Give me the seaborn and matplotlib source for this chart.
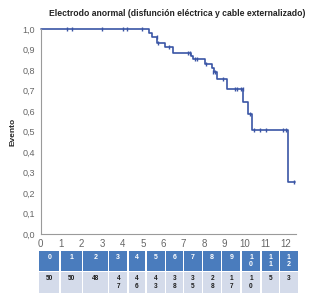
import numpy as np
import pandas as pd
from matplotlib import pyplot as plt
from matplotlib.patches import Rectangle
import seaborn as sns

# Kaplan-Meier steps (time in years, survival)
step_time = [0, 5.31, 5.44, 5.72, 6.09, 6.50, 7.35, 7.45, 8.06, 8.40, 8.50, 8.66,
             9.12, 9.93, 10.15, 10.34, 12.14, 12.45]
step_surv = [1.0, 0.979, 0.960, 0.930, 0.911, 0.882, 0.868, 0.855, 0.831, 0.808,
             0.790, 0.756, 0.707, 0.642, 0.586, 0.508, 0.256, 0.256]

# censored observations
cens_time = [1.30, 1.52, 3.02, 4.05, 4.23, 4.95, 5.69, 5.75, 6.30, 7.24, 7.32, 7.55,
             7.68, 8.10, 8.45, 8.55, 8.95, 9.52, 9.60, 9.80, 9.92, 10.26, 10.47,
             10.75, 11.04, 11.89, 12.00, 12.43]
cens_surv = [1.0, 1.0, 1.0, 1.0, 1.0, 1.0, 0.960, 0.930, 0.911, 0.882, 0.882, 0.855,
             0.855, 0.831, 0.790, 0.790, 0.756, 0.707, 0.707, 0.707, 0.707, 0.586,
             0.508, 0.508, 0.508, 0.508, 0.508, 0.256]

# number-at-risk table under the plot
table_years = ['0', '1', '2', '3', '4', '5', '6', '7', '8', '9', '1\n0', '1\n1', '1\n2']
at_risk = ['50', '50', '48', '4\n7', '4\n6', '4\n3', '3\n8', '3\n5', '2\n8', '1\n7', '1\n0', '5', '3']
col_widths = [21.4, 22.6, 26.0, 19.4, 18.0, 19.3, 18.0, 19.3, 19.0, 19.4, 20.0, 18.3, 19.3]

title = 'Electrodo anormal (disfunción eléctrica y cable externalizado)'

sns.set_style('white')
plt.rcParams['font.family'] = ['Liberation Sans', 'DejaVu Sans']

line_col = '#3a55a5'
axis_col = '#9a9a9a'
tick_col = '#666666'

W, H = 328, 300
fig = plt.figure(figsize=(W / 100, H / 100), dpi=100)
ax = fig.add_axes([40.7 / W, 1 - 234.3 / H, 255.5 / W, 205.3 / H])

df_km = pd.DataFrame({'t': step_time, 's': step_surv})
sns.lineplot(data=df_km, x='t', y='s', ax=ax, color=line_col, lw=1.2,
             drawstyle='steps-post', sort=False, clip_on=False)
df_c = pd.DataFrame({'t': cens_time, 's': cens_surv})
sns.scatterplot(data=df_c, x='t', y='s', ax=ax, color=line_col, marker='|',
                s=7, linewidth=1.0, clip_on=False, zorder=3)

ax.set_xlim(0, 12.52)
ax.set_ylim(0, 1.0)
ax.set_xticks(range(0, 13))
ax.set_yticks(np.arange(0, 1.01, 0.1))
ax.set_yticklabels([f'{v:.1f}'.replace('.', ',') for v in np.arange(0, 1.01, 0.1)])
ax.set_xlabel('')
ax.set_ylabel('Evento', fontsize=6, fontweight='bold', labelpad=4)
for side in ['top', 'right']:
    ax.spines[side].set_visible(False)
for side in ['left', 'bottom']:
    ax.spines[side].set_color(axis_col)
    ax.spines[side].set_linewidth(0.8)
ax.tick_params(axis='both', which='both', direction='out', length=3, width=0.8,
               color=axis_col, labelcolor=tick_col, labelsize=6.5, pad=1)
ax.tick_params(axis='x', labelsize=7, pad=0.5)

fig.text(177 / W, 1 - 13 / H, title, ha='center', va='center',
         fontsize=6.2, fontweight='bold', color='#222222')

# table
tab_left, tab_top, tab_bottom = 39.3, 250.5, 292.7
tab_w = sum(col_widths)
tax = fig.add_axes([tab_left / W, 1 - tab_bottom / H, tab_w / W, (tab_bottom - tab_top) / H])
tax.set_xlim(0, tab_w)
tax.set_ylim(tab_bottom - tab_top, 0)
tax.axis('off')
x0 = 0
gap = 1.4
for yr, n, w in zip(table_years, at_risk, col_widths):
    tax.add_patch(Rectangle((x0, 0), w - gap, 20.3, color='#4a7cbd', lw=0))
    tax.add_patch(Rectangle((x0, 21.8), w - gap, 20.4, color='#d4dbea', lw=0))
    tax.text(x0 + (w - gap) / 2, 3.8, yr, ha='center', va='top', color='white',
             fontsize=5.0, fontweight='bold', linespacing=1.0)
    tax.text(x0 + (w - gap) / 2, 25.0, n, ha='center', va='top', color='#1e1e1e',
             fontsize=4.7, fontweight='bold', linespacing=1.0)
    x0 += w

plt.savefig('out.png', dpi=100)
